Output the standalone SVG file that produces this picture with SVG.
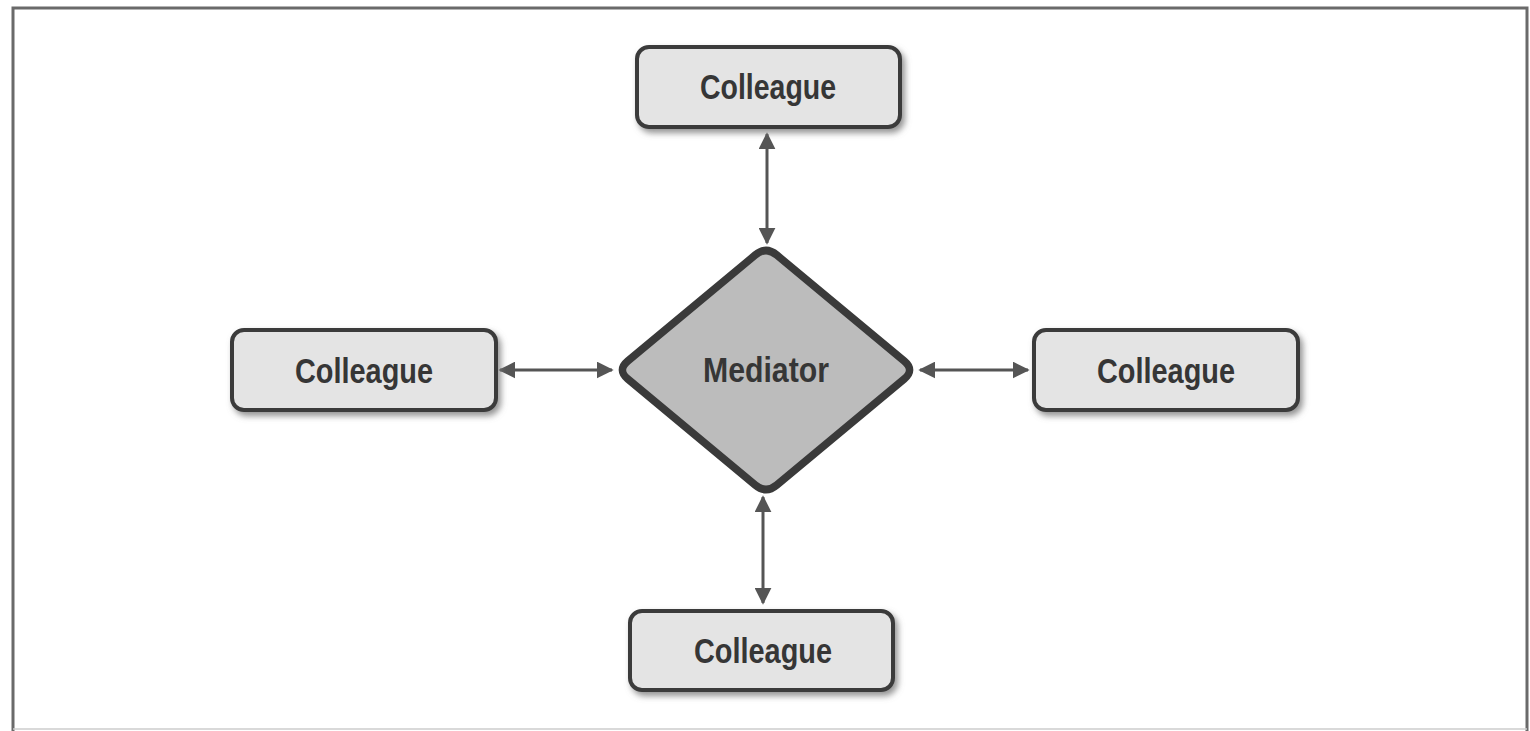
<svg xmlns="http://www.w3.org/2000/svg" width="1530" height="731" viewBox="0 0 1530 731">
<style>
.box{fill:#e4e4e4;stroke:#3b3b3b;stroke-width:4;filter:url(#sh)}
.lbl{font-family:"Liberation Sans",Arial,sans-serif;font-weight:bold;font-size:35px;fill:#363636;text-anchor:middle}
.conn{stroke:#555;stroke-width:3;fill:none;marker-start:url(#ah);marker-end:url(#ah)}
.frame{stroke:#6a6a6a;stroke-width:3;fill:none}
</style>
<defs>
<filter id="sh" x="-10%" y="-20%" width="130%" height="150%">
<feDropShadow dx="3" dy="4" stdDeviation="3" flood-color="#777" flood-opacity="0.8"/>
</filter>
<marker id="ah" viewBox="0 0 10 10" refX="9" refY="5" markerUnits="userSpaceOnUse" markerWidth="17" markerHeight="17" orient="auto-start-reverse">
<path d="M0,0 L10,5 L0,10 Z" fill="#555"/>
</marker>
</defs>
<rect width="1530" height="731" fill="#fff"/>
<g id="frame">
<path class="frame" d="M13,731 L13,8 L1527,8 L1527,731"/>
<path d="M13,729 L1527,729" stroke="#ccc" stroke-width="1.5"/>
</g>
<g id="connectors">
<line class="conn" x1="767" y1="134" x2="767" y2="243"/>
<line class="conn" x1="763" y1="497" x2="763" y2="603"/>
<line class="conn" x1="500" y1="370" x2="612" y2="370"/>
<line class="conn" x1="920" y1="370" x2="1028" y2="370"/>
</g>
<g id="mediator">
<path d="M755.2,255 Q766,246 776.8,255 L904.2,361 Q915,370 904.2,379 L776.8,485 Q766,494 755.2,485 L627.8,379 Q617,370 627.8,361 Z" fill="#bcbcbc" stroke="#3a3a3a" stroke-width="7.5" stroke-linejoin="round"/>
<text class="lbl" x="766" y="382" textLength="126" lengthAdjust="spacingAndGlyphs">Mediator</text>
</g>
<g id="colleague-top">
<rect class="box" x="637" y="47" width="263" height="80" rx="12"/>
<text class="lbl" x="768" y="99" textLength="136" lengthAdjust="spacingAndGlyphs">Colleague</text>
</g>
<g id="colleague-left">
<rect class="box" x="232" y="330" width="264" height="80" rx="12"/>
<text class="lbl" x="364" y="383" textLength="138" lengthAdjust="spacingAndGlyphs">Colleague</text>
</g>
<g id="colleague-right">
<rect class="box" x="1034" y="330" width="264" height="80" rx="12"/>
<text class="lbl" x="1166" y="383" textLength="138" lengthAdjust="spacingAndGlyphs">Colleague</text>
</g>
<g id="colleague-bottom">
<rect class="box" x="630" y="611" width="263" height="79" rx="12"/>
<text class="lbl" x="763" y="663" textLength="138" lengthAdjust="spacingAndGlyphs">Colleague</text>
</g>
</svg>
